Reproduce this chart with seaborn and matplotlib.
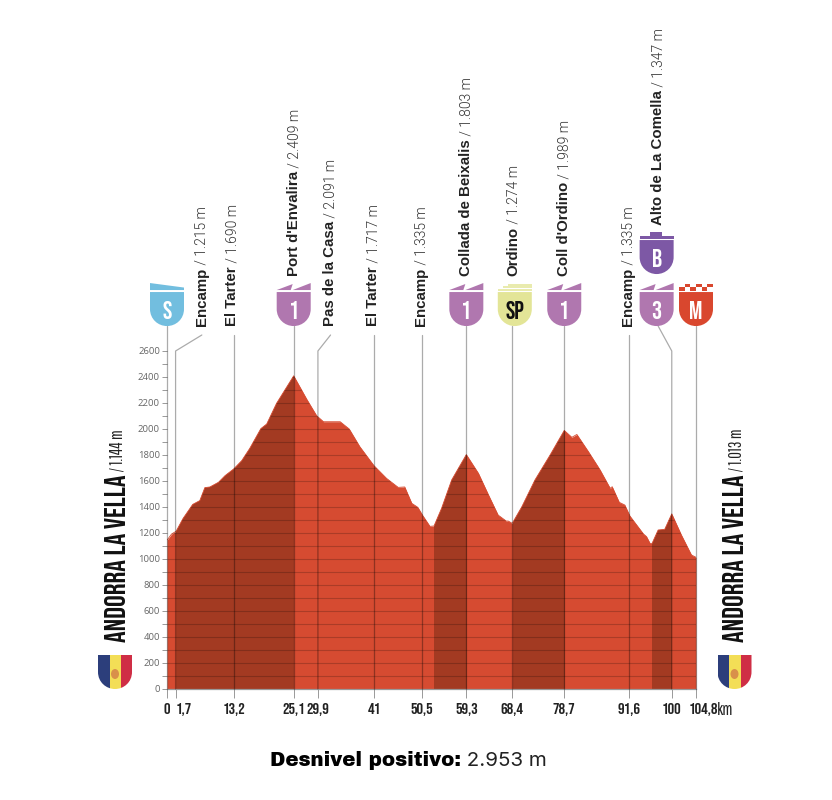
import matplotlib
matplotlib.use("Agg")
import matplotlib.pyplot as plt
from matplotlib.patches import Ellipse, PathPatch, Polygon
from matplotlib.path import Path
from matplotlib.ticker import MultipleLocator
from matplotlib.transforms import ScaledTranslation
import numpy as np
import pandas as pd
import seaborn as sns

# profile
profile_km = [0, 0.9, 1.8, 3.2, 5.1, 6.5, 7.5, 8.5, 10.2, 11.5, 13.2, 14.8, 16.4, 18.6, 19.75, 21.7, 25.1,
              27.7, 29.65, 31, 34.3, 36.1, 38.2, 41, 43.5, 45.8, 47.1, 48.5, 49.7, 50.6, 52.1, 52.9,
              54.4, 56.4, 59.3, 61.7, 63.7, 65.6, 67.2, 67.6, 68.4, 70.3, 72.9, 75.9, 78.7, 80.2, 81.2,
              83.5, 85.8, 87.8, 88.2, 89.6, 90.7, 91.7, 94.4, 95, 95.7, 96.1, 97.3, 98.6, 100, 101.9, 103.9, 104.8]
profile_elev = [1144, 1192, 1213, 1313, 1420, 1449, 1549, 1554, 1590, 1641, 1692, 1756, 1851, 2003, 2038, 2197, 2409,
                2228, 2102, 2056, 2056, 2000, 1864, 1718, 1620, 1551, 1554, 1428, 1397, 1338, 1251, 1254,
                1390, 1608, 1803, 1659, 1492, 1338, 1292, 1292, 1274, 1402, 1608, 1800, 1989, 1936, 1958,
                1825, 1685, 1544, 1556, 1436, 1415, 1331, 1192, 1172, 1120, 1120, 1223, 1228, 1347, 1185, 1031, 1013]

climb_start = [1.7, 52.9, 68.6, 96.1]
climb_end = [25.1, 59.4, 78.8, 100]

tick_km = [0, 1.7, 13.2, 25.1, 29.9, 41, 50.5, 59.3, 68.4, 78.7, 91.6, 100, 104.8]
tick_text = ["0", "1,7", "13,2", "25,1", "29,9", "41", "50,5", "59,3", "68,4", "78,7", "91,6", "100", "104,8"]

place_names = ["Encamp", "El Tarter", "Port d'Envalira", "Pas de la Casa", "El Tarter", "Encamp",
               "Collada de Beixalis", "Ordino", "Coll d'Ordino", "Encamp", "Alto de La Comella"]
place_alt = ["1.215 m", "1.690 m", "2.409 m", "2.091 m", "1.717 m", "1.335 m",
             "1.803 m", "1.274 m", "1.989 m", "1.335 m", "1.347 m"]
place_km = [1.7, 13.2, 25.1, 29.9, 41, 50.5, 59.3, 68.4, 78.7, 91.6, 100]
label_km = [6.9, 12.9, 25.2, 32.3, 40.9, 50.4, 59.3, 68.6, 78.7, 91.4, 97.3]
label_base = [2792, 2792, 3177, 2792, 2792, 2792, 3177, 3177, 3177, 2792, 3569]
leader_km = [6.9, 13.2, 25.1, 32.4, 41, 50.5, 59.3, 68.4, 78.7, 91.6, 97.3]
leader_top = [2723, 2723, 2792, 2723, 2723, 2723, 2792, 2792, 2792, 2723, 2792]

badge_km = [0, 25.1, 59.3, 68.9, 78.7, 97.0, 97.0, 104.8]
badge_bottom = [2792, 2792, 2792, 2792, 2792, 2792, 3192, 2792]
badge_text = ["S", "1", "1", "SP", "1", "3", "B", "M"]
badge_color = ["#72BEDF", "#B077AF", "#B077AF", "#E3E597", "#B077AF", "#B077AF", "#7D58A5", "#D9472E"]
badge_top = ["pennant", "peak", "peak", "sprint", "peak", "peak", "bonus", "finish"]

start_name = "ANDORRA LA VELLA"
start_alt = "1.144 m"
finish_alt = "1.013 m"

FILL = "#D64B31"
DARK = "#A33A22"
PX_KM = 529 / 104.8
PX_M = 0.13

BEBAS = ["Bebas Neue", "Oswald", "Liberation Sans"]
THIN = ["Pathway Gothic One", "Oswald", "Liberation Sans"]
HEAVY = ["Archivo Black", "DejaVu Sans"]
PLAIN = ["Inter", "Liberation Sans"]
ROBOTO = ["Roboto", "Liberation Sans"]


def kx(px):
    return px / PX_KM


def my(px):
    return px / PX_M


sns.set_theme(style="white")
plt.rcParams["font.family"] = ["Liberation Sans", "DejaVu Sans"]

fig = plt.figure(figsize=(8.32, 8.0), dpi=100)
ax = fig.add_axes([167 / 832, 111 / 800, 529 / 832, 338 / 800])

df = pd.DataFrame({"km": profile_km, "elev": profile_elev})
sns.lineplot(data=df, x="km", y="elev", color=FILL, lw=0.6, ax=ax, zorder=2)
ax.fill_between(df["km"], 0, df["elev"], color=FILL, lw=0, zorder=1)
clip = Polygon(np.column_stack([[0] + profile_km + [104.8], [0] + profile_elev + [0]]),
               transform=ax.transData, fc="none", ec="none")
ax.add_patch(clip)

for a, b in zip(climb_start, climb_end):
    band = ax.axvspan(a, b, color=DARK, lw=0, zorder=1.5)
    band.set_clip_path(clip)

grid = ax.hlines(np.arange(100, 2600, 100), 0, 104.8, color="black", alpha=0.2, lw=0.8, zorder=3)
grid.set_clip_path(clip)

ax.set_xlim(0, 104.8)
ax.set_ylim(0, 2600)
ax.set_xlabel("")
ax.set_ylabel("")

# leader lines
line_kw = dict(color="black", alpha=0.33, lw=0.9, clip_on=False, zorder=4)
for km, top_km, top in zip(place_km, leader_km, leader_top):
    if top_km != km:
        ax.plot([top_km, km, km], [top, 2600, 0], **line_kw)
    else:
        ax.plot([km, km], [top, 0], **line_kw)
ax.plot([0, 0], [2792, 0], **line_kw)
ax.plot([104.8, 104.8], [2792, 0], **line_kw)

# axes
sns.despine(ax=ax, left=True, top=True, right=True)
ax.spines["bottom"].set_color("#999999")
ax.spines["bottom"].set_linewidth(0.9)
ax.yaxis.set_major_locator(MultipleLocator(200))
ax.yaxis.set_minor_locator(MultipleLocator(100))
ax.tick_params(axis="y", which="both", left=True, length=3.6, width=0.7, color="#999999",
               labelsize=6.8, labelcolor="#666666", pad=1.5)
for lab in ax.get_yticklabels():
    lab.set_fontfamily(["Open Sans", "Liberation Sans"])
ax.set_xticks(tick_km)
ax.set_xticklabels(tick_text, fontfamily=BEBAS, fontsize=11.8, color="#222222")
ax.tick_params(axis="x", bottom=True, length=6.5, width=0.7, color="#999999", pad=3.5)
labels = ax.get_xticklabels()
labels[1].set_ha("left")
labels[-1].set_ha("left")
labels[-1].set_transform(labels[-1].get_transform() + ScaledTranslation(-0.07, 0, fig.dpi_scale_trans))
ax.annotate("km", xy=(104.8, 0), xytext=(21, -21), textcoords="offset pixels", ha="left", va="center",
            fontsize=12.5, family=THIN, color="#222222", annotation_clip=False)

# places
for name, alt, km, base in zip(place_names, place_alt, label_km, label_base):
    first = ax.text(km, base, name, rotation=90, ha="center", va="bottom", fontsize=10.8,
                    fontweight="bold", color="#222222", clip_on=False)
    ax.annotate(" / " + alt, xy=(1, 1), xycoords=first, rotation=90, ha="right", va="bottom",
                fontsize=10, fontweight=300, family=ROBOTO, color="#333333")


def shield(cx, bottom, color, z=5):
    w = kx(17)
    h = my(34)
    verts = [(cx - w, bottom + h), (cx + w, bottom + h), (cx + w, bottom + my(17)),
             (cx + w, bottom + my(7)), (cx + kx(9), bottom), (cx, bottom),
             (cx - kx(9), bottom), (cx - w, bottom + my(7)), (cx - w, bottom + my(17)),
             (cx - w, bottom + h)]
    codes = [Path.MOVETO, Path.LINETO, Path.LINETO, Path.CURVE4, Path.CURVE4, Path.CURVE4,
             Path.CURVE4, Path.CURVE4, Path.CURVE4, Path.CLOSEPOLY]
    patch = PathPatch(Path(verts, codes), fc=color, ec="none", clip_on=False, zorder=z)
    ax.add_patch(patch)
    return patch


def poly_px(cx, base, pts, color):
    xy = [(cx + kx(px), base + my(py)) for px, py in pts]
    ax.add_patch(Polygon(xy, closed=True, fc=color, ec="none", clip_on=False, zorder=5))


for km, bottom, text, color, top in zip(badge_km, badge_bottom, badge_text, badge_color, badge_top):
    shield(km, bottom, color)
    if top == "pennant":
        poly_px(km, bottom, [(-17, 43), (17, 38.5), (17, 36), (-17, 36)], color)
    elif top == "peak":
        poly_px(km, bottom, [(-17, 36), (-1, 42), (-3, 36)], color)
        poly_px(km, bottom, [(-1, 36), (17, 43), (17, 36)], color)
    elif top == "sprint":
        for i, step in enumerate([35.5, 38, 40.5]):
            poly_px(km, bottom, [(-17 + i * 5, step), (17, step), (17, step + 1.6), (-17 + i * 5, step + 1.6)], "#E9EBAE")
    elif top == "bonus":
        poly_px(km, bottom, [(-17, 35.5), (17, 35.5), (17, 38.5), (-17, 38.5)], color)
        poly_px(km, bottom, [(-7, 38.5), (5, 38.5), (5, 42.5), (-7, 42.5)], color)
    elif top == "finish":
        for col in range(6):
            for row in range(2):
                if (col + row) % 2 == 0:
                    left = -17 + col * 34 / 6
                    low = 35.5 + row * 3.5
                    poly_px(km, bottom, [(left, low), (left + 34 / 6, low), (left + 34 / 6, low + 3.5), (left, low + 3.5)], color)
    ax.text(km, bottom + my(16), text, ha="center", va="center", fontsize=18, family=BEBAS,
            color="#111111" if text == "SP" else "white", clip_on=False, zorder=6)

# flags
for cx in [kx(115 - 167), kx(734.5 - 167)]:
    base = shield(cx, 0, "none")
    for left, width, color in [(-17, 11.5, "#2C3E7B"), (-5.5, 11.5, "#F3DE56"), (6, 11, "#CF2E45")]:
        stripe = Polygon([(cx + kx(left), 0), (cx + kx(left + width), 0),
                          (cx + kx(left + width), my(34)), (cx + kx(left), my(34))],
                         fc=color, ec="none", zorder=5)
        ax.add_patch(stripe)
        stripe.set_clip_box(None)
        stripe.set_clip_path(base.get_path(), base.get_transform())
    ax.add_patch(Ellipse((cx, my(15)), kx(8), my(10), fc="#D9904A", ec="none", clip_on=False, zorder=6))

# start and finish names
for px, alt in [(115, start_alt), (734, finish_alt)]:
    first = ax.text(kx(px - 167), my(47), start_name, rotation=90, ha="center", va="bottom", fontsize=21,
                    family=BEBAS, color="#111111", clip_on=False)
    ax.annotate(" / " + alt, xy=(1, 1), xycoords=first, rotation=90, ha="right", va="bottom",
                fontsize=12, family=THIN, color="#222222")

# bottom note
first = fig.text(270 / 832, 1 - 761 / 800, "Desnivel positivo:", ha="left", va="center", fontsize=14.2,
                 color="black", family=HEAVY)
ax.annotate(" 2.953 m", xy=(1, 0.5), xycoords=first, ha="left", va="center", fontsize=14.8, color="#222222", family=PLAIN)

fig.savefig("out.png", dpi=100)
